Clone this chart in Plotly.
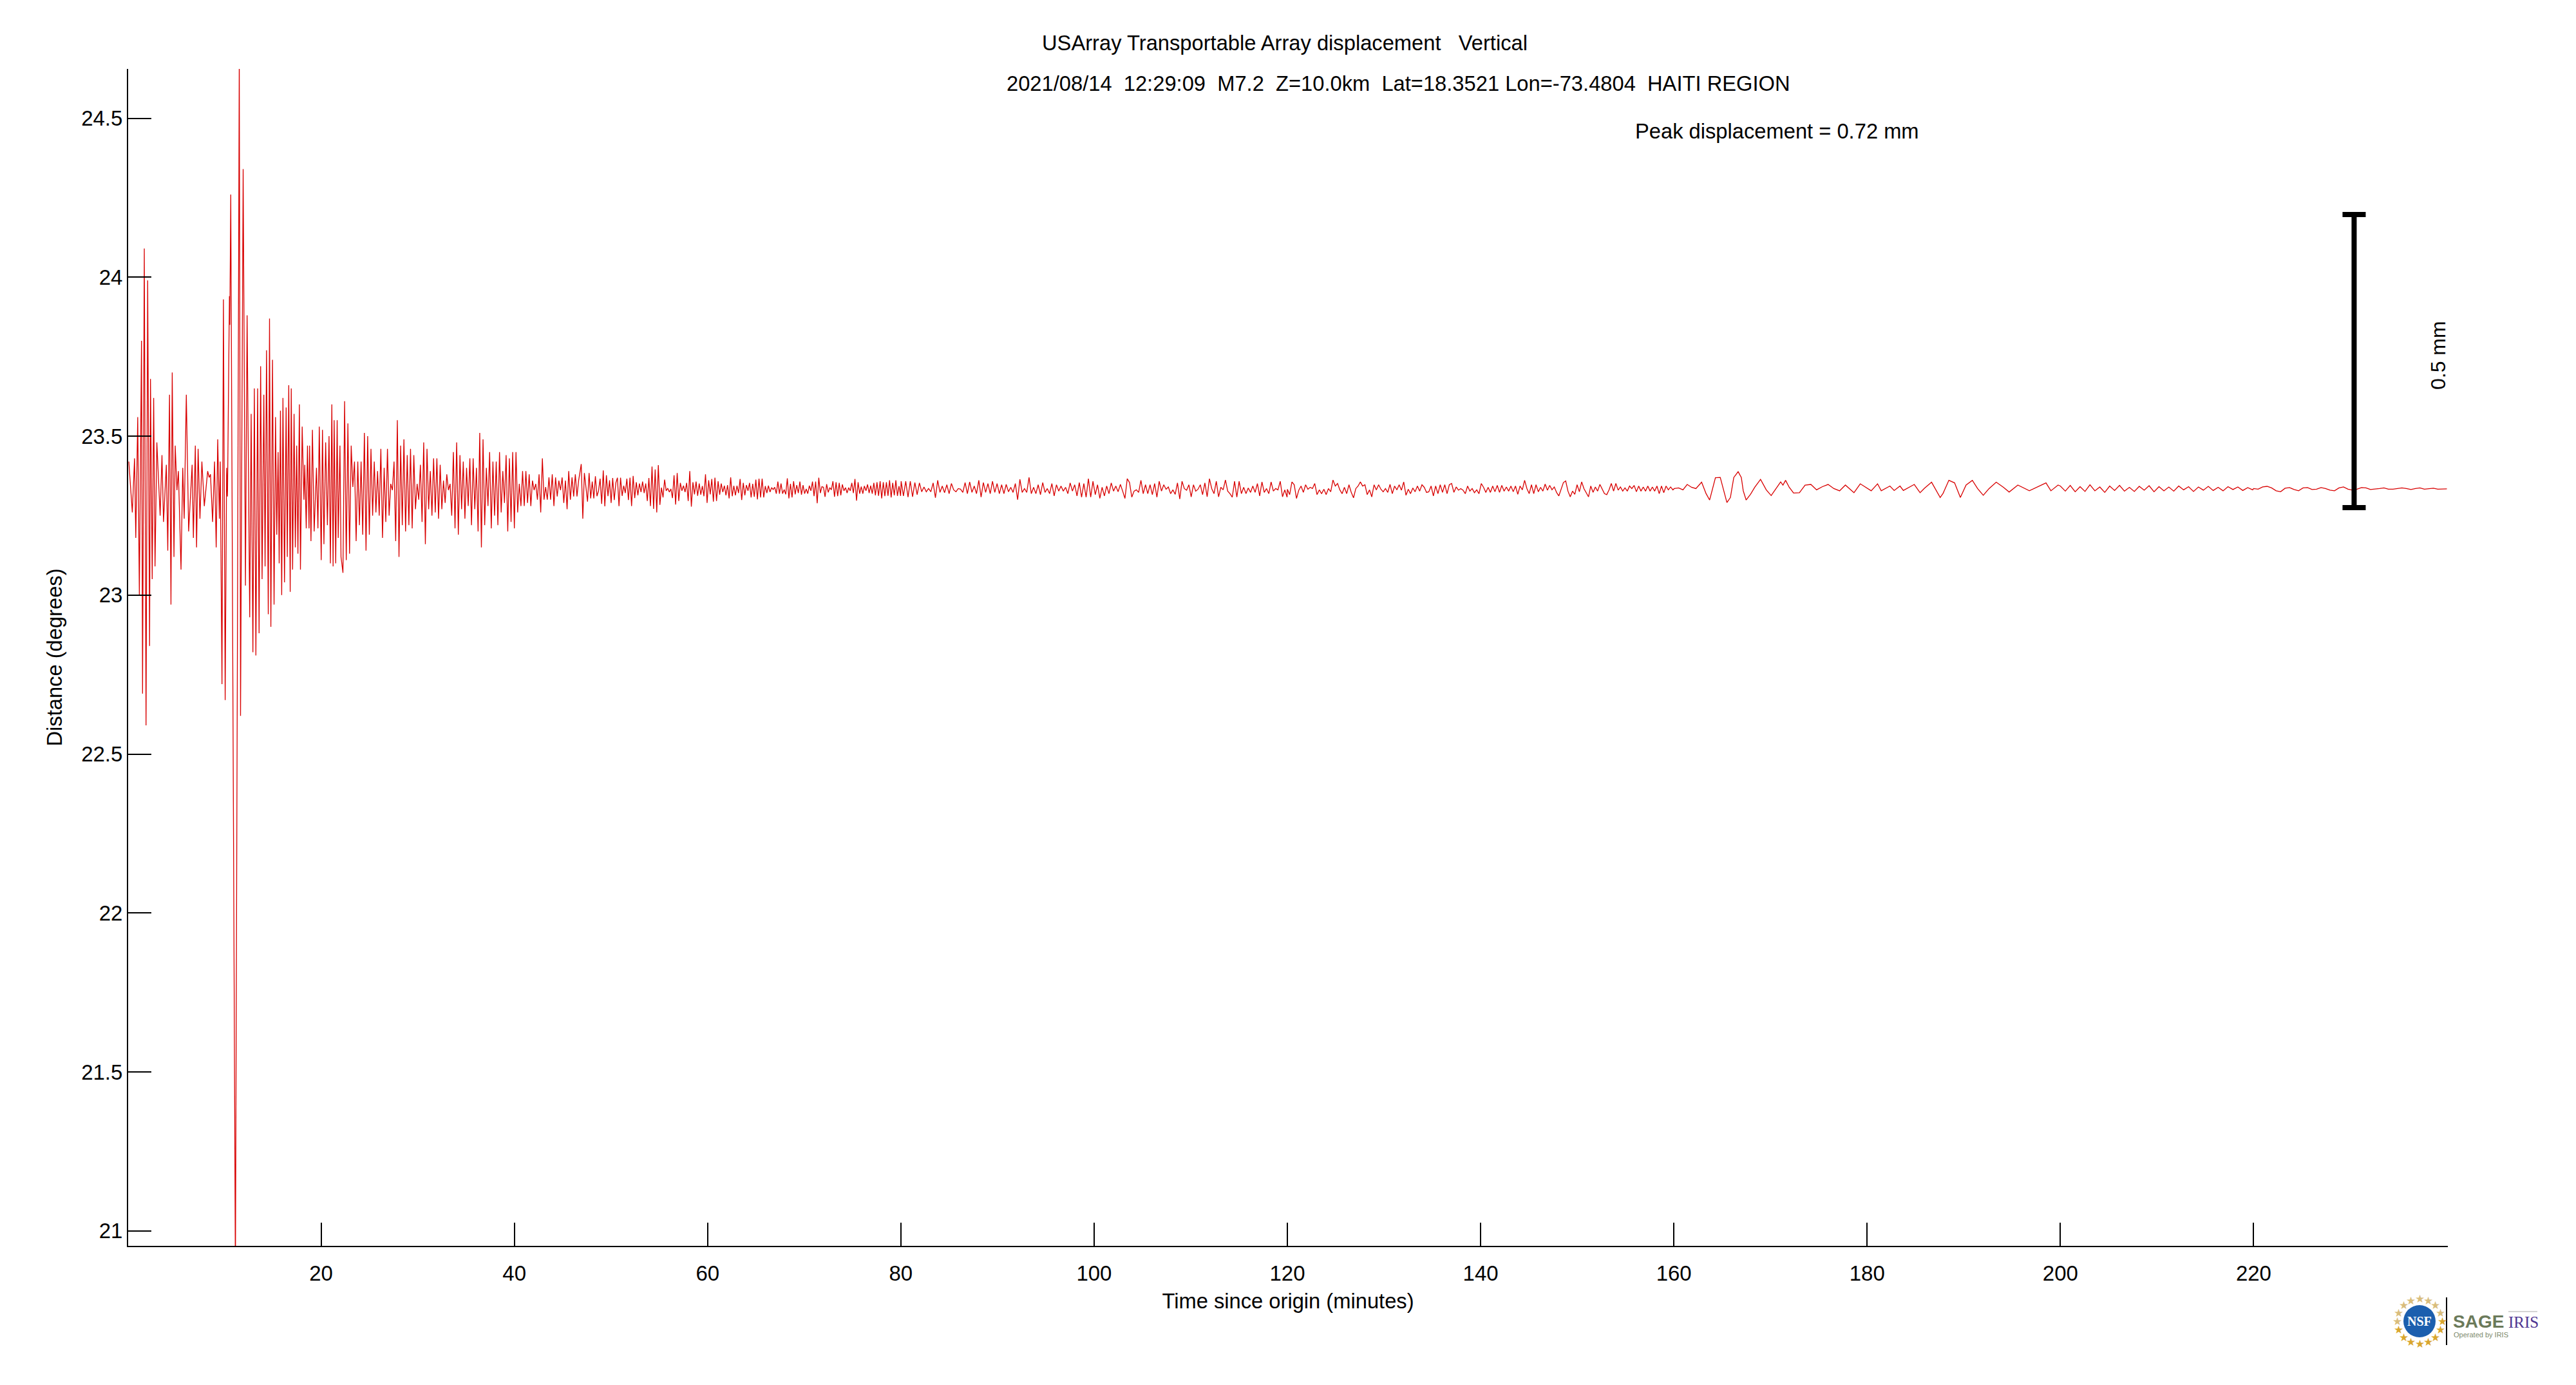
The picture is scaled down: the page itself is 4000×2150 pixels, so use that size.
import math
import numpy as np
import plotly.graph_objects as go

BASE = 23.335

# first arrivals, times read one by one (minutes, degrees)
early_t = [0.10,0.46,0.69,0.82,1.02,1.19,1.41,1.52,1.70,1.88,2.05,2.25,2.34,2.52,2.67,2.81,3.00,3.34,3.53,3.69,
           3.98,4.13,4.31,4.46,4.59,4.77,4.90,5.08,5.23,5.50,5.68,5.83,6.05,6.29,6.65,6.78,6.98,7.11,7.27,7.46,
           7.66,7.91,8.26,8.41,8.55,8.77,8.97,9.14,9.30,9.47,9.56,9.74,9.89,10.07,10.22,10.31,10.51,10.55,10.65,11.13,
           11.53,11.66,11.93,12.17,12.34,12.61,12.76,12.94,13.09,13.25,13.43,13.58,13.74,13.89,14.07,14.20,14.35,14.53,14.66,14.80,
           14.97,15.13,15.28,15.41,15.55,15.66,15.79,15.92,16.05,16.21,16.38,16.50,16.65,16.80,16.91,17.05,17.20,17.33,17.47,17.60,
           17.75,17.86,18.04,18.22,18.31,18.46,18.59,18.75,18.81,18.95,19.10,19.28,19.52,19.67,19.81,20.01,20.14,20.29,20.47,20.65,
           20.82,20.96,21.11,21.24,21.35,21.51,21.66,21.77,21.95,22.06]
early_val = [23.42,23.26,23.43,23.18,23.56,23.00,23.80,22.69,24.09,22.59,23.99,22.84,23.68,23.05,23.62,23.09,23.48,23.25,23.44,23.23,
             23.41,23.14,23.63,22.97,23.70,23.12,23.47,23.33,23.39,23.08,23.40,23.24,23.63,23.20,23.41,23.18,23.47,23.15,23.46,23.24,
             23.42,23.28,23.39,23.37,23.38,23.23,23.42,23.15,23.49,23.24,23.42,22.72,23.93,22.67,23.40,23.31,23.94,23.85,24.26,20.85,
             24.70,22.62,24.34,23.03,23.88,22.93,23.57,22.82,23.65,22.81,23.65,22.88,23.72,23.05,23.63,23.09,23.77,22.94,23.87,22.90,
             23.74,22.97,23.56,23.19,23.45,23.10,23.58,23.00,23.62,23.04,23.59,23.12,23.66,23.01,23.65,23.08,23.57,23.15,23.47,23.13,
             23.60,23.08,23.53,23.30,23.41,23.21,23.47,23.21,23.47,23.17,23.52,23.20,23.40,23.21,23.53,23.11,23.52,23.16,23.48,23.22,
             23.50,23.10,23.60,23.09,23.55,23.10,23.55,23.18,23.47,23.12]

# 22-47 min, degrees
mid_val = [23.07,23.61,23.11,23.54,23.13,23.47,23.34,23.42,23.17,23.42,23.22,23.42,23.19,23.51,23.14,23.50,23.19,23.46,23.25,23.42,
           23.26,23.39,23.25,23.46,23.18,23.40,23.23,23.46,23.25,23.35,23.33,23.42,23.17,23.55,23.12,23.47,23.22,23.49,23.20,23.44,
           23.22,23.46,23.21,23.44,23.27,23.35,23.30,23.41,23.23,23.48,23.16,23.46,23.27,23.39,23.25,23.43,23.26,23.43,23.24,23.41,
           23.27,23.36,23.29,23.38,23.33,23.35,23.25,23.45,23.21,23.48,23.19,23.44,23.27,23.42,23.24,23.40,23.28,23.43,23.22,23.43,
           23.27,23.40,23.20,23.51,23.15,23.49,23.22,23.40,23.28,23.45,23.21,23.42,23.25,23.42,23.22,23.45,23.26,23.39,23.29,23.44,
           23.20,23.43,23.23,23.45,23.21,23.45,23.26,23.35,23.28,23.39,23.28,23.39,23.29,23.38,23.28,23.36,23.33,23.35,23.30,23.38,
           23.26,23.43,23.30,23.34,23.30,23.37,23.30,23.38,23.28,23.37,23.31,23.36,23.33,23.37,23.29,23.36,23.27,23.39,23.30,23.37,
           23.31,23.38,23.31,23.36]

# the rest is offsets from the baseline in thousandths of a degree
off_47_80 = [77,-95,49,-1,-41,49,-31,22,-31,39,-24,-7,31,-48,57,-56,42,-24,26,-45,33,-36,18,34,-55,34,-23,9,-14,31,-36,34,-55,40,-30,20,
             -21,16,-11,22,-14,16,-39,33,-55,69,-64,60,-75,74,-51,3,-28,28,-7,1,-11,-1,-30,42,-50,49,-39,18,-7,9,-11,18,-39,55,-57,20,
             -18,22,-23,16,-19,8,-24,45,-45,26,-18,30,-41,34,-39,23,-19,16,-11,9,-21,11,-31,35,-24,9,-21,9,-14,30,-36,18,-21,11,-7,18,
             -28,15,-26,28,-34,31,-28,31,-28,8,-14,9,-11,3,-3,4,-16,22,-16,16,-16,-3,-18,32,-31,15,-28,23,-18,11,-14,22,-19,11,-16,-1,
             -16,9,-7,22,-24,22,-46,34,-14,6,4,-26,14,-12,3,-4,23,-26,20,-24,18,-21,13,-7,3,-14,3,-7,18,-14,30,-38,20,-16,6,-16,8,-7,
             13,-14,9,-16,18,-21,20,-23,23,-31,20,-24,20,-23,26,-28,18,-21,26,-23,8,-23]
off_80_120 = [23,-23,23,-27,23,-26,19,-19,18,-10,5,-10,0,-10,18,-29,26,-12,8,-13,12,-16,16,-4,-10,0,-2,-12,19,-16,21,-12,8,-16,26,-27,
              19,-12,16,-16,23,-12,16,-16,12,-16,13,-10,4,-12,16,-35,29,-12,0,-12,35,-16,4,-16,12,-19,19,-12,0,-16,16,-23,12,-8,8,-8,
              4,-16,18,-8,12,-23,19,-27,16,-27,31,-27,23,-19,12,-31,4,-23,8,-16,18,-8,8,-10,13,-8,-31,31,19,-27,-8,-4,-12,26,-16,12,
              -16,12,-19,16,-27,23,-8,12,-2,5,-16,-4,-18,18,-33,23,0,-5,12,-26,12,-8,-2,12,-19,18,-26,31,0,-16,23,-26,4,-4,27,-8,-16,
              -27,23,-27,23,-16,4,-16,2,-12,8,-12,16,-23,21,-12,0,-16,21,-8,0,-4,23,-26,-4,-27]
off_120_160 = [-2,-19,21,12,-31,-5,8,-12,12,-2,4,0,16,-19,-4,-16,-2,-19,0,-10,27,8,16,-4,-16,4,-16,12,-12,-29,0,8,21,8,12,-19,-4,-26,12,
               -4,12,-2,-10,0,-12,13,-16,8,-4,12,-5,21,-21,-2,-16,2,-10,8,-8,12,4,-12,-10,8,-23,8,-16,12,-12,12,-16,12,16,-12,5,-5,0,
               -5,-16,8,-8,0,-13,-4,-16,16,4,-12,4,-12,8,-10,10,-12,10,-8,5,-8,8,-10,8,-18,8,-4,26,0,-16,12,-16,12,-10,4,-8,14,-5,10,
               -4,5,-12,-23,-4,19,24,-8,-26,-8,-18,12,-10,21,0,-12,-26,8,-12,5,-8,13,-2,-16,-19,-4,16,-8,16,-5,5,-8,2,-8,8,0,10,-10,8,
               -8,5,-8,8,-8,5,-8,8,-16,8,-13,8,-4,5,-4]
# long period arrival around 165 min
swing_t = [160.04,160.49,160.94,161.38,161.83,162.28,162.87,163.32,163.70,164.00,164.30,164.80,165.10,165.49,165.85,166.20,166.65,166.98,
           167.18,167.48,167.93,168.37,168.97,169.56,170.07,170.60,171.05,171.29,171.56,171.94,172.39,172.99,173.58,174.18,174.77,175.37,
           175.96,176.56,177.15,177.75,178.64,179.29,179.83,180.42,181.08,181.46,182.36,182.80,183.40,183.75,184.88,185.48,185.93,186.67,
           187.56,187.86,188.46,189.05,189.65,190.24,190.89,191.43,192.02,192.62,193.36,194.11,194.70,195.60,196.79,197.68,198.51,199.02,199.76]
swing_off = [0,2,-4,13,4,0,20,-15,-36,0,34,35,0,-44,-28,35,53,35,-7,-36,-18,4,29,-4,-22,0,21,11,26,4,-14,-13,11,13,-4,6,13,0,-7,11,
             -13,15,4,-7,15,-7,8,-6,8,-6,13,-13,1,20,-28,-15,26,18,-28,11,26,0,-21,0,20,4,-11,11,-7,6,18,-7,11]
off_200_220 = [8,-8,10,-10,6,-9,12,-7,5,-12,8,-6,10,-8,4,-9,7,-5,9,-10,6,-7,5,-8,8,-4,6,-9,5,-5,7,-6,4,-7,6,-3,5,-6,3,-4]
off_220_240 = [0,-2,5,7,2,-7,-10,1,3,-3,-7,2,3,-3,-2,3,0,-5,-7,2,5,-2,-5,-2,3,2,-3,-2,0,2,-2,-2,0,2,0,-3,0,2,-2,0,1,-2,-1,-1]

x_ticks = [20,40,60,80,100,120,140,160,180,200,220]
y_ticks = [21,21.5,22,22.5,23,23.5,24,24.5]
y_labels = ['21','21.5','22','22.5','23','23.5','24','24.5']

bar_x = 230.4
bar_low = 23.275
bar_high = 24.197

title_1 = 'USArray Transportable Array displacement   Vertical'
title_2 = '2021/08/14  12:29:09  M7.2  Z=10.0km  Lat=18.3521 Lon=-73.4804  HAITI REGION'
title_3 = 'Peak displacement = 0.72 mm'


def offs(values):
    return [BASE + v / 1000 for v in values]


t = list(early_t) + list(np.linspace(22.26, 46.65, len(mid_val))) \
    + list(np.linspace(46.92, 79.97, len(off_47_80))) \
    + list(np.linspace(80.03, 119.97, len(off_80_120))) \
    + list(np.linspace(120.0, 159.9, len(off_120_160))) \
    + swing_t \
    + list(np.linspace(200.0, 219.9, len(off_200_220))) \
    + list(np.linspace(220.0, 240.0, len(off_220_240)))
y = early_val + mid_val + offs(off_47_80) + offs(off_80_120) + offs(off_120_160) \
    + offs(swing_off) + offs(off_200_220) + offs(off_220_240)

# plot box in page pixels; the page body adds an 8 px margin
L, R, T, B = 199, 3801, 107, 1934
PAGE = 8
W, H = 4000 - PAGE, 2150 - PAGE


def px(x):
    return (x - L) / (R - L)


def py(v):
    return (B - v) / (B - T)


FONT = 'Liberation Sans'
fig = go.Figure()
fig.add_trace(go.Scatter(x=t, y=y, mode='lines', line=dict(color='#d80000', width=1.3), showlegend=False))
fig.add_trace(go.Scatter(x=[bar_x], y=[(bar_low + bar_high) / 2], mode='markers', marker=dict(size=1, color='black'),
                         error_y=dict(type='data', array=[(bar_high - bar_low) / 2], color='black', thickness=8, width=18),
                         showlegend=False))


def label(text, x, y_px, size=32.7, color='black', family=FONT, angle=0, anchor='center', bold=False):
    if bold:
        text = '<b>' + text + '</b>'
    fig.add_annotation(text=text, xref='paper', yref='paper', x=px(x), y=py(y_px), xanchor=anchor, yanchor='middle',
                       showarrow=False, textangle=angle, font=dict(size=size, color=color, family=family))


label(title_1, 1995, 66)
label(title_2, 2171, 129)
label(title_3, 2759, 203)
label('0.5 mm', 3786, 552, size=32, angle=-90)

# NSF / SAGE / IRIS logo, redrawn
shapes = []
cx, cy = 3757, 2051
for i in range(16):
    a = 2 * math.pi * i / 16
    star = '#d9bd7c' if math.sin(a) > 0 else '#d9a62e'
    label('★', cx + 35 * math.cos(a), cy - 35 * math.sin(a), size=17, color=star, family='DejaVu Sans')
shapes.append(dict(type='circle', xref='paper', yref='paper', x0=px(cx - 25), x1=px(cx + 25), y0=py(cy + 25), y1=py(cy - 25),
                   fillcolor='#1c5fae', line=dict(width=0)))
shapes.append(dict(type='line', xref='paper', yref='paper', x0=px(3799), x1=px(3799), y0=py(2014), y1=py(2088),
                   line=dict(color='black', width=2)))
shapes.append(dict(type='line', xref='paper', yref='paper', x0=px(3895), x1=px(3940), y0=py(2036), y1=py(2036),
                   line=dict(color='#a9a9a9', width=1)))
label('NSF', cx, cy, size=20, color='white', family='Liberation Serif', bold=True)
label('SAGE', 3807, 2051, size=28, color='#6b7a5a', bold=True, anchor='left')
label('IRIS', 3893, 2052, size=25, color='#4d3491', family='Liberation Serif', anchor='left')
label('Operated by IRIS', 3808, 2072, size=11, color='#7d8a6c', anchor='left')

axis = dict(showgrid=False, zeroline=False, showline=True, linecolor='black', linewidth=2, ticks='inside', ticklen=36,
            tickwidth=2, tickcolor='black', tickfont=dict(size=33, color='black', family=FONT))
fig.update_layout(width=W, height=H, autosize=False, paper_bgcolor='white', plot_bgcolor='white',
                  margin=dict(l=L - PAGE, r=W - (R - PAGE), t=T - PAGE, b=H - (B - PAGE)), shapes=shapes,
                  xaxis=dict(range=[0.03, 240.1], tickvals=x_ticks, ticktext=[str(v) for v in x_ticks], ticklabelstandoff=12,
                             title=dict(text='Time since origin (minutes)', standoff=15, font=dict(size=32.7, color='black', family=FONT)), **axis),
                  yaxis=dict(range=[20.953, 24.655], tickvals=y_ticks, ticktext=y_labels,
                             title=dict(text='Distance (degrees)', standoff=20, font=dict(size=32.7, color='black', family=FONT)), **axis))

fig.write_html("out.html")
